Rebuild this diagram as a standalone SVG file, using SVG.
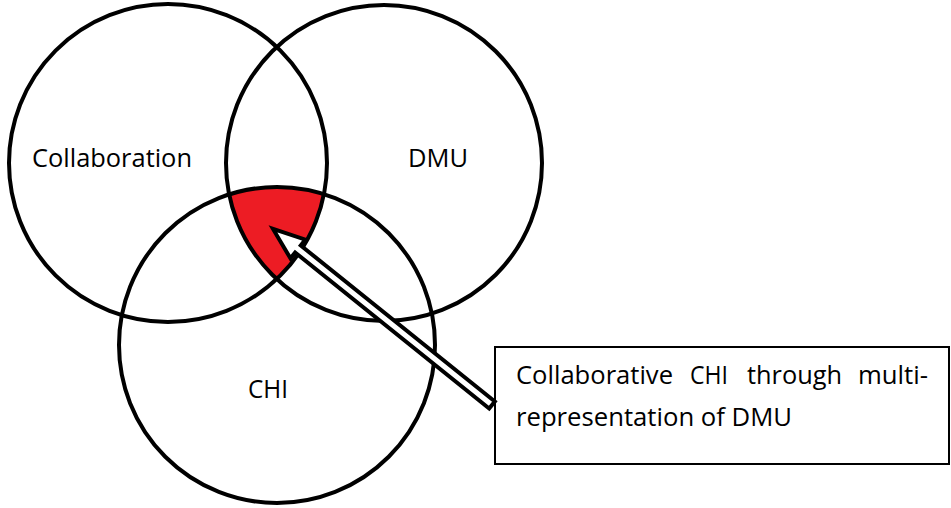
<svg xmlns="http://www.w3.org/2000/svg" width="951" height="508" viewBox="0 0 951 508">
  <style>
    .ring { fill: none; stroke: #000; stroke-width: 4; }
    .lbl { font-family: "Open Sans", "Liberation Sans", sans-serif; font-size: 25px; fill: #000; }
    .box { fill: #fff; stroke: #000; stroke-width: 2; }
    .arrow { fill: #fff; stroke: #000; stroke-width: 4; stroke-linejoin: miter; }
  </style>
  <defs>
    <clipPath id="clipCollab"><circle cx="168" cy="163" r="159"/></clipPath>
    <clipPath id="clipDmu"><circle cx="384" cy="163" r="158"/></clipPath>
  </defs>
  <rect width="951" height="508" fill="#fff"/>
  <g id="intersection" clip-path="url(#clipCollab)">
    <circle cx="277" cy="345" r="158" fill="#ED1C24" clip-path="url(#clipDmu)"/>
  </g>
  <g id="node-collaboration">
    <circle class="ring" cx="168" cy="163" r="159"/>
    <text class="lbl" x="32" y="167" textLength="160" lengthAdjust="spacingAndGlyphs">Collaboration</text>
  </g>
  <g id="node-dmu">
    <circle class="ring" cx="384" cy="163" r="158"/>
    <text class="lbl" x="408" y="167" textLength="60" lengthAdjust="spacingAndGlyphs">DMU</text>
  </g>
  <g id="node-chi">
    <circle class="ring" cx="277" cy="345" r="158"/>
    <text class="lbl" x="248" y="398" textLength="40" lengthAdjust="spacingAndGlyphs">CHI</text>
  </g>
  <g id="node-note">
    <rect class="box" x="495" y="347" width="454" height="117"/>
    <text class="lbl" x="516" y="384" textLength="157" lengthAdjust="spacingAndGlyphs">Collaborative</text>
    <text class="lbl" x="690" y="384" textLength="38" lengthAdjust="spacingAndGlyphs">CHI</text>
    <text class="lbl" x="747" y="384" textLength="95" lengthAdjust="spacingAndGlyphs">through</text>
    <text class="lbl" x="858" y="384" textLength="70" lengthAdjust="spacingAndGlyphs">multi-</text>
    <text class="lbl" x="516" y="426" textLength="276" lengthAdjust="spacingAndGlyphs">representation of DMU</text>
  </g>
  <g id="connectors">
    <polygon class="arrow" transform="translate(492,405) rotate(-141.2)" points="0,-4.5 249,-4.5 249,-12 281,0 249,12 249,4.5 0,4.5"/>
  </g>
</svg>
